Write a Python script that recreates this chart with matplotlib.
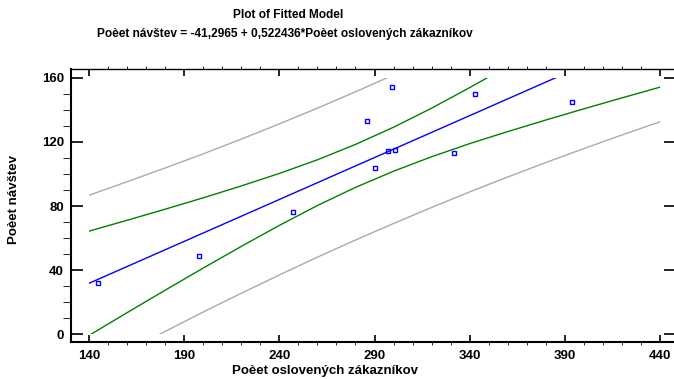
import matplotlib
matplotlib.use("Agg")
import matplotlib.pyplot as plt
from matplotlib.patches import Rectangle
from matplotlib.ticker import MultipleLocator

customers = [145, 198, 247, 286, 290, 297, 299, 301, 332, 343, 394]
visits = [32, 49, 76, 133, 104, 114, 154, 115, 113, 150, 145]

# Fitted line end points
fit_x = [140, 440]
fit_y = [31.8, 188.6]

# Confidence / prediction limits read at these x positions
band_x = [140, 160, 180, 200, 220, 240, 260, 280, 300, 320, 340, 360, 380, 400, 420, 440]
conf_upper = [64.3, 71.1, 78.0, 85.1, 92.5, 100.3, 108.8, 118.4, 129.1, 141.0, 153.8,
              167.1, 180.8, 194.8, 208.9, 223.0]
conf_lower = [-0.7, 13.5, 27.5, 41.3, 54.8, 67.9, 80.3, 91.6, 101.7, 110.7, 118.9,
              126.4, 133.6, 140.6, 147.4, 154.1]
pred_upper = [86.7, 95.1, 103.7, 112.5, 121.7, 131.2, 141.0, 151.2, 161.7, 172.6, 183.9,
              195.5, 207.4, 219.5, 232.0, 244.6]
pred_lower = [-23.0, -10.5, 1.8, 13.9, 25.6, 37.0, 48.1, 58.8, 69.1, 79.1, 88.8,
              98.1, 107.1, 115.8, 124.3, 132.5]

title1 = "Plot of Fitted Model"
title2 = "Poèet návštev = -41,2965 + 0,522436*Poèet oslovených zákazníkov"
xlabel = "Poèet oslovených zákazníkov"
ylabel = "Poèet návštev"

plt.rcParams["font.family"] = ["Liberation Sans", "DejaVu Sans"]
plt.rcParams["font.weight"] = "bold"

fig = plt.figure(figsize=(6.74, 3.79), dpi=100)
# right edge sits just past the canvas, like the cropped original
ax = fig.add_axes([0.1049, 0.0984, 0.8981, 0.7195])

clip = Rectangle((140, 0), 300, 160, transform=ax.transData)

lines = []
lines += ax.plot(band_x, pred_upper, color="#aaaaaa", lw=1)
lines += ax.plot(band_x, pred_lower, color="#aaaaaa", lw=1)
lines += ax.plot(band_x, conf_upper, color="#008000", lw=1)
lines += ax.plot(band_x, conf_lower, color="#008000", lw=1)
lines += ax.plot(fit_x, fit_y, color="#0000ff", lw=1)
for ln in lines:
    ln.set_clip_path(clip)

ax.plot(customers, visits, ls="none", marker="s", ms=3.5, mfc="none",
        mec="#0000ff", mew=1)

ax.set_xlim(130.4, 448.4)
ax.set_ylim(-4.6, 165.4)
ax.xaxis.set_minor_locator(MultipleLocator(10))
ax.yaxis.set_major_locator(MultipleLocator(40))
ax.yaxis.set_minor_locator(MultipleLocator(10))
ax.set_xticks([140, 190, 240, 290, 340, 390, 440])

ax.tick_params(direction="in", top=True, right=True, labelsize=9.5, width=1.2)
ax.tick_params(axis="x", which="major", length=5, pad=6)
ax.tick_params(axis="x", which="minor", length=2.5, top=True)
ax.tick_params(axis="y", which="major", length=8.5, pad=5)
ax.tick_params(axis="y", which="minor", length=5.5, right=True)
for lab in ax.get_xticklabels() + ax.get_yticklabels():
    lab.set_fontweight("bold")

ax.spines["left"].set_linewidth(1.5)
ax.spines["bottom"].set_linewidth(1.5)
ax.spines["top"].set_linewidth(1)
ax.spines["right"].set_linewidth(1)

fig.text(288 / 674, 1 - 15 / 379, title1, ha="center", va="center", fontsize=8.6, fontweight="bold")
fig.text(285 / 674, 1 - 34 / 379, title2, ha="center", va="center", fontsize=8.6, fontweight="bold")
fig.text(325 / 674, 1 - 371 / 379, xlabel, ha="center", va="center", fontsize=9.5, fontweight="bold")
fig.text(14 / 674, 1 - 200 / 379, ylabel, ha="center", va="center", rotation=90,
         fontsize=9.5, fontweight="bold")

fig.savefig("out.png", dpi=100)
